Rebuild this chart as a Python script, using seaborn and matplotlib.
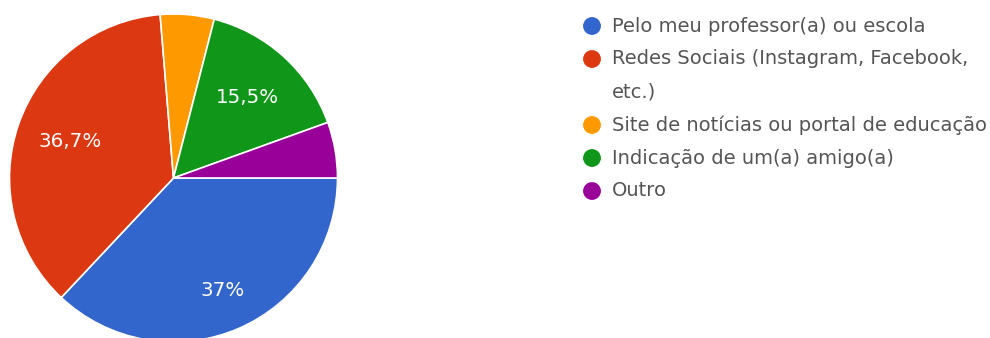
import matplotlib
matplotlib.use("Agg")
import matplotlib.pyplot as plt
import seaborn as sns
import numpy as np

categories = [
    "Pelo meu professor(a) ou escola",
    "Redes Sociais (Instagram, Facebook,\netc.)",
    "Site de notícias ou portal de educação",
    "Indicação de um(a) amigo(a)",
    "Outro",
]
values = [37.0, 36.7, 5.3, 15.5, 5.5]
slice_labels = ["37%", "36,7%", "", "15,5%", ""]
colors = ["#3366CC", "#DC3912", "#FF9900", "#109618", "#990099"]

sns.set_theme(style="white")
plt.rcParams["font.family"] = ["DejaVu Sans"]
palette = sns.color_palette(colors)

W, H = 990, 338
fig = plt.figure(figsize=(W / 100, H / 100), dpi=100)
fig.patch.set_facecolor("white")

# Pie axes (circle, partly cut at bottom like the reference)
ax = fig.add_axes([9.5 / W, -4 / H, 328 / W, 328 / H])
wedges, texts = ax.pie(
    values,
    colors=palette,
    startangle=0,
    counterclock=False,
    radius=1.0,
    wedgeprops=dict(edgecolor="white", linewidth=1.2),
)
ax.set_xlim(-1, 1)
ax.set_ylim(-1, 1)
ax.set_aspect("equal")
ax.axis("off")

for i, (w, lab) in enumerate(zip(wedges, slice_labels)):
    if not lab:
        continue
    mid = np.deg2rad((w.theta1 + w.theta2) / 2)
    r = 0.75 if i == 0 else 0.667
    ax.text(r * np.cos(mid), r * np.sin(mid), lab, ha="center", va="center",
            color="white", fontsize=14.3)

# Legend drawn manually in pixel coordinates
lax = fig.add_axes([0, 0, 1, 1])
lax.set_xlim(0, W)
lax.set_ylim(H, 0)
lax.axis("off")
lax.patch.set_alpha(0)

y0, step = 26, 33
line = 0
for cat, col in zip(categories, palette):
    y = y0 + line * step
    lax.scatter([592], [y], s=165, color=col, edgecolor="none", zorder=3)
    for k, part in enumerate(cat.split("\n")):
        lax.text(612, y + k * step, part, ha="left", va="center",
                 color="#555555", fontsize=14.0)
    line += len(cat.split("\n"))

fig.savefig("out.png", dpi=100, facecolor="white")
